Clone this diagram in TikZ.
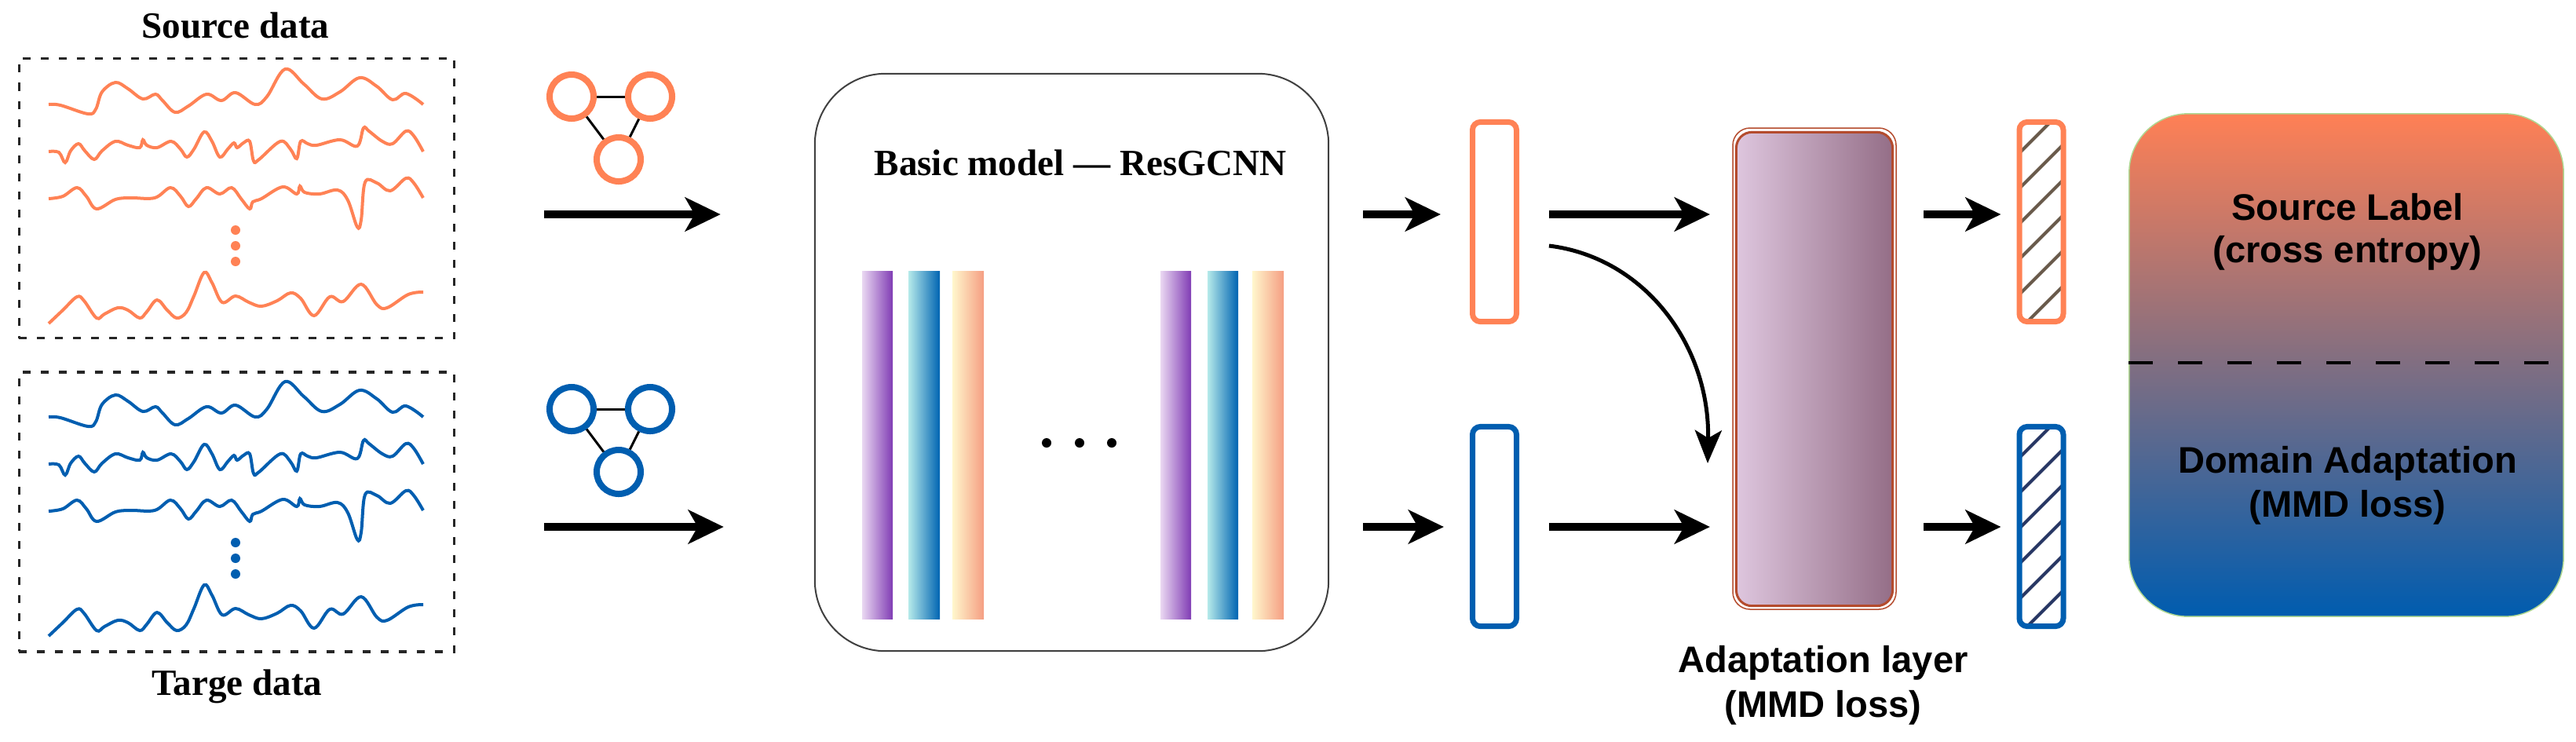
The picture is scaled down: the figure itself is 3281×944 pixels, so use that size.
\documentclass[tikz,border=0pt]{standalone}
\usepackage{fontspec}
\setmainfont{Liberation Serif}
\setsansfont{Liberation Sans}
\usetikzlibrary{arrows.meta}

\definecolor{srcC}{RGB}{255,130,85}
\definecolor{tgtC}{RGB}{0,94,176}
\definecolor{purpleL}{RGB}{234,216,242}
\definecolor{purpleR}{RGB}{128,60,180}
\definecolor{tealL}{RGB}{182,234,234}
\definecolor{tealR}{RGB}{0,100,178}
\definecolor{peachL}{RGB}{255,247,205}
\definecolor{peachR}{RGB}{245,158,130}
\definecolor{alL}{RGB}{222,198,222}
\definecolor{alR}{RGB}{148,110,135}
\definecolor{alC}{RGB}{180,75,45}
\definecolor{lossT}{RGB}{255,128,85}
\definecolor{lossB}{RGB}{0,92,175}
\definecolor{edgeG}{RGB}{175,215,145}
\definecolor{hatchO}{RGB}{105,90,75}
\definecolor{hatchB}{RGB}{40,55,100}

\begin{document}
\begin{tikzpicture}[x=0.01cm, y=-0.01cm,
   serif label/.style ={font=\fontsize{13.4}{16}\selectfont\bfseries, anchor=base, inner sep=0pt},
   sans label/.style ={font=\sffamily\fontsize{13.4}{16}\selectfont\bfseries, anchor=base, inner sep=0pt},
   datapanel/.style ={draw=black!85, dash pattern=on 0.10cm off 0.13cm, line width=0.035cm, inner sep=0pt, minimum width=5.54cm, minimum height=3.56cm},
   trace/.style ={line width=0.04cm},
   gnode/.style ={circle, draw, line width=0.08cm, inner sep=0pt, minimum size=0.56cm},
   gedge/.style ={black, line width=0.03cm},
   model/.style ={draw=black!75, line width=0.02cm, rounded corners=0.9cm, inner sep=0pt, minimum width=6.54cm, minimum height=7.35cm},
   bar1/.style ={left color=purpleL, right color=purpleR},
   bar2/.style ={left color=tealL, right color=tealR},
   bar3/.style ={left color=peachL, right color=peachR},
   feature/.style ={draw, line width=0.07cm, rounded corners=0.1cm, inner sep=0pt, minimum width=0.56cm, minimum height=2.54cm},
   adapt/.style ={draw=alC, line width=0.03cm, rounded corners=0.2cm, left color=alL, right color=alR, inner sep=0pt, minimum width=1.99cm, minimum height=6.03cm},
   hatchline/.style ={line width=0.04cm},
   lossbox/.style ={draw=edgeG, line width=0.015cm, rounded corners=0.75cm, top color=lossT, bottom color=lossB, inner sep=0pt, minimum width=5.53cm, minimum height=6.40cm},
   divider/.style ={black, line width=0.04cm, dash pattern=on 0.31cm off 0.32cm},
   flow/.style ={line width=0.1cm, -{Stealth[length=0.45cm, width=0.43cm, inset=0.12cm]}},
   curveflow/.style ={line width=0.05cm, -{Stealth[length=0.42cm, width=0.34cm, inset=0.1cm]}}]
   \useasboundingbox (0,0) rectangle (3281,944);

   \node[serif label] (SL) at (300,48) {Source data};
   \node[serif label] (TL) at (302,885) {Targe data};
   \node[datapanel] (S) at (301.5,252.5) {};
   \node[datapanel] (T) at (301.5,652) {};

   \draw[trace, srcC] plot[smooth, tension=0.6] coordinates {(62,133) (77,134) (112,145) (122,139) (130,117) (147,105) (163,113) (182,126) (198,120) (207,128) (223,143) (240,135) (263,120) (282,128) (300,118) (325,133) (340,123) (363,88) (387,107) (410,126) (433,117) (458,99) (480,110) (500,127) (517,119) (539,133)};
   \draw[trace, srcC] plot[smooth, tension=0.6] coordinates {(62,193) (75,194) (83,207) (90,192) (100,183) (108,192) (120,203) (130,192) (147,180) (163,185) (178,188) (182,178) (187,185) (200,188) (218,180) (230,190) (238,200) (247,190) (260,168) (270,180) (280,200) (290,190) (298,182) (302,188) (310,182) (318,180) (323,205) (330,203) (357,180) (370,190) (378,202) (383,180) (392,183) (403,185) (433,178) (455,186) (463,163) (470,167) (487,180) (500,183) (517,167) (527,173) (539,193)};
   \draw[trace, srcC] plot[smooth, tension=0.6] coordinates {(62,253) (80,250) (98,239) (110,250) (123,266) (147,254) (167,252) (197,252) (217,239) (230,250) (240,263) (250,253) (263,239) (280,247) (295,239) (307,253) (318,266) (322,257) (333,253) (360,238) (378,247) (382,237) (388,245) (407,247) (430,242) (443,255) (455,289) (460,280) (465,232) (480,233) (497,243) (517,227) (527,233) (539,252)};
   \draw[trace, srcC] plot[smooth, tension=0.6] coordinates {(62,412) (80,395) (98,378) (107,383) (123,405) (133,400) (150,392) (163,395) (178,405) (187,397) (200,382) (213,395) (225,405) (237,398) (247,377) (260,347) (270,360) (283,385) (300,377) (317,385) (333,390) (353,383) (370,373) (383,380) (400,402) (420,378) (437,384) (460,362) (480,388) (493,392) (520,375) (539,372)};
   \fill[srcC] (300,293) circle (0.06cm);
   \fill[srcC] (300,313) circle (0.06cm);
   \fill[srcC] (300,333) circle (0.06cm);

   \begin{scope}[shift={(0,398)}]
   \draw[trace, tgtC] plot[smooth, tension=0.6] coordinates {(62,133) (77,134) (112,145) (122,139) (130,117) (147,105) (163,113) (182,126) (198,120) (207,128) (223,143) (240,135) (263,120) (282,128) (300,118) (325,133) (340,123) (363,88) (387,107) (410,126) (433,117) (458,99) (480,110) (500,127) (517,119) (539,133)};
   \draw[trace, tgtC] plot[smooth, tension=0.6] coordinates {(62,193) (75,194) (83,207) (90,192) (100,183) (108,192) (120,203) (130,192) (147,180) (163,185) (178,188) (182,178) (187,185) (200,188) (218,180) (230,190) (238,200) (247,190) (260,168) (270,180) (280,200) (290,190) (298,182) (302,188) (310,182) (318,180) (323,205) (330,203) (357,180) (370,190) (378,202) (383,180) (392,183) (403,185) (433,178) (455,186) (463,163) (470,167) (487,180) (500,183) (517,167) (527,173) (539,193)};
   \draw[trace, tgtC] plot[smooth, tension=0.6] coordinates {(62,253) (80,250) (98,239) (110,250) (123,266) (147,254) (167,252) (197,252) (217,239) (230,250) (240,263) (250,253) (263,239) (280,247) (295,239) (307,253) (318,266) (322,257) (333,253) (360,238) (378,247) (382,237) (388,245) (407,247) (430,242) (443,255) (455,289) (460,280) (465,232) (480,233) (497,243) (517,227) (527,233) (539,252)};
   \draw[trace, tgtC] plot[smooth, tension=0.6] coordinates {(62,412) (80,395) (98,378) (107,383) (123,405) (133,400) (150,392) (163,395) (178,405) (187,397) (200,382) (213,395) (225,405) (237,398) (247,377) (260,347) (270,360) (283,385) (300,377) (317,385) (333,390) (353,383) (370,373) (383,380) (400,402) (420,378) (437,384) (460,362) (480,388) (493,392) (520,375) (539,372)};
   \fill[tgtC] (300,293) circle (0.06cm);
   \fill[tgtC] (300,313) circle (0.06cm);
   \fill[tgtC] (300,333) circle (0.06cm);
   \end{scope}

   \node[gnode, srcC] (A) at (728,123) {};
   \node[gnode, srcC] (B) at (828,123) {};
   \node[gnode, srcC] (C) at (788,203) {};
   \node[gnode, tgtC] (D) at (728,521) {};
   \node[gnode, tgtC] (E) at (828,521) {};
   \node[gnode, tgtC] (F) at (788,601) {};

   \draw[gedge] (A) to (B);
   \draw[gedge] (B) to (C);
   \draw[gedge] (C) to (A);
   \draw[gedge] (D) to (E);
   \draw[gedge] (E) to (F);
   \draw[gedge] (F) to (D);

   \node[model] (M) at (1365,461.5) {};
   \node[serif label] (MT) at (1376,223) {Basic model --- ResGCNN};
   \shade[bar1] (1098,345) rectangle (1137,788);
   \shade[bar2] (1157,345) rectangle (1197,788);
   \shade[bar3] (1213,345) rectangle (1253,788);
   \shade[bar1] (1478,345) rectangle (1517,788);
   \shade[bar2] (1538,345) rectangle (1577,788);
   \shade[bar3] (1595,345) rectangle (1635,788);
   \fill (1333,564) circle (0.06cm);
   \fill (1375,564) circle (0.06cm);
   \fill (1416,564) circle (0.06cm);

   \node[feature, srcC] (P) at (1903.5,282.5) {};
   \node[feature, tgtC] (Q) at (1903.5,670.5) {};

   \node[adapt] (L) at (2311,470) {};
   \draw[alC, line width=0.015cm, rounded corners=0.22cm] (2207,163) rectangle (2415,776);
   \node[sans label] (L1) at (2322,856) {Adaptation layer};
   \node[sans label] (L2) at (2322,913) {(MMD loss)};

   \begin{scope}
   \clip (2575,159) rectangle (2625,406);
   \draw[hatchline, hatchO] (2560,207) -- (2650,117);
   \draw[hatchline, hatchO] (2560,252) -- (2650,162);
   \draw[hatchline, hatchO] (2560,297) -- (2650,207);
   \draw[hatchline, hatchO] (2560,342) -- (2650,252);
   \draw[hatchline, hatchO] (2560,387) -- (2650,297);
   \draw[hatchline, hatchO] (2560,432) -- (2650,342);
   \end{scope}
   \begin{scope}[shift={(0,388)}]
   \clip (2575,159) rectangle (2625,406);
   \draw[hatchline, hatchB] (2560,207) -- (2650,117);
   \draw[hatchline, hatchB] (2560,252) -- (2650,162);
   \draw[hatchline, hatchB] (2560,297) -- (2650,207);
   \draw[hatchline, hatchB] (2560,342) -- (2650,252);
   \draw[hatchline, hatchB] (2560,387) -- (2650,297);
   \draw[hatchline, hatchB] (2560,432) -- (2650,342);
   \end{scope}
   \node[feature, srcC] (H) at (2600,282.5) {};
   \node[feature, tgtC] (K) at (2600,670.5) {};

   \node[lossbox] (R) at (2988.5,465) {};
   \coordinate (d) at (0,462);
   \draw[divider] (R.west |- d) to ([xshift=-0.1cm]R.east |- d);
   \node[sans label] (R1) at (2990,280) {Source Label};
   \node[sans label] (R2) at (2990,334) {(cross entropy)};
   \node[sans label] (R3) at (2990,602) {Domain Adaptation};
   \node[sans label] (R4) at (2990,658) {(MMD loss)};

   \coordinate (r1) at (0,273);
   \coordinate (r2) at (0,671);
   \coordinate (c1) at (1973,313);
   \coordinate (c2) at (2175,590);

   \draw[flow, shorten <=1.13cm, shorten >=1.19cm] (S.east |- r1) to (M.west |- r1);
   \draw[flow, shorten <=1.13cm, shorten >=1.15cm] (T.east |- r2) to (M.west |- r2);
   \draw[flow, shorten <=0.43cm, shorten >=0.37cm] (M.east |- r1) to (P.west |- r1);
   \draw[flow, shorten <=0.43cm, shorten >=0.33cm] (M.east |- r2) to (Q.west |- r2);
   \draw[flow, shorten <=0.38cm, shorten >=0.32cm] (P.east |- r1) to (L.west |- r1);
   \draw[flow, shorten <=0.38cm, shorten >=0.32cm] (Q.east |- r2) to (L.west |- r2);
   \draw[flow, shorten <=0.38cm, shorten >=0.20cm] (L.east |- r1) to (H.west |- r1);
   \draw[flow, shorten <=0.38cm, shorten >=0.20cm] (L.east |- r2) to (K.west |- r2);
   \draw[curveflow] (c1) .. controls (2095,328) and (2178,440) .. (c2);
 \end{tikzpicture}
\end{document}
